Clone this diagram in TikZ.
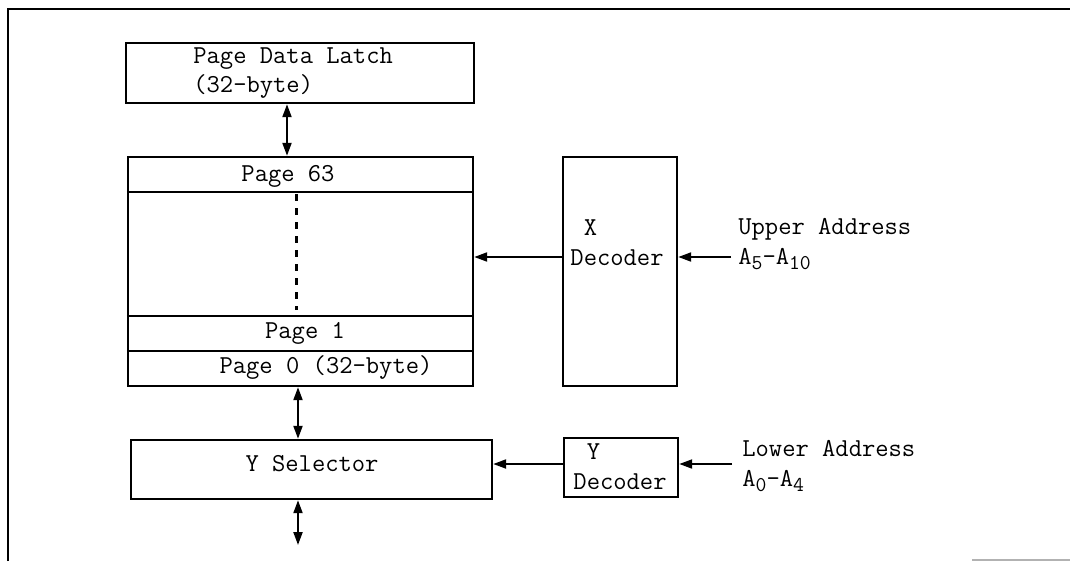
\documentclass[tikz,border=0pt]{standalone}
\usepackage{fontspec}
\usetikzlibrary{arrows.meta}
\newcommand{\addrsub}[1]{\raisebox{-0.45ex}{\fontsize{12}{12}\selectfont #1}}
\tikzset{
  blk/.style={rectangle, draw, line width=1.4pt, inner sep=0pt},
  lbl/.style={font=\ttfamily\fontsize{14.7}{17}\selectfont, inner sep=0pt,
              align=left},
  bus/.style={line width=1.2pt,
              {Triangle[length=2.6mm,width=1.8mm]}-{Triangle[length=2.6mm,width=1.8mm]}},
  sig/.style={line width=1.2pt, -{Triangle[length=2.6mm,width=1.8mm]}},
  rowline/.style={line width=1pt}
}
\begin{document}
\begin{tikzpicture}[x=0.02cm, y=-0.02cm]
  \useasboundingbox (0,0) rectangle (1070,561);
  \draw[line width=1.4pt] (8,561) -- (8,9) -- (1070,9);
  \draw[gray!60, line width=0.8pt] (972,560) -- (1070,560);
  % latch and memory array
  \node[blk, minimum width=6.96cm, minimum height=1.2cm] (latch) at (300,73) {};
  \node[lbl, anchor=west] (latchtxt) at (193,73) {Page Data Latch\\(32-byte)};
  \node[blk, minimum width=6.9cm, minimum height=4.58cm] (mem) at (300.5,271.5) {};
  \foreach \y in {192,316,351}
    \draw[rowline] (mem.west |- 0,\y) -- (mem.east |- 0,\y);
  \node[lbl] (p63) at (288,176) {Page 63};
  \node[lbl] (p1)  at (305,333) {Page 1};
  \node[lbl] (p0)  at (326,367) {Page 0 (32-byte)};
  \draw[line width=1.2pt, dash pattern=on 4pt off 4pt] (296.5,194) -- (296.5,310);
  % decoders and selector
  \node[blk, minimum width=2.28cm, minimum height=4.58cm] (xdec) at (620,271.5) {};
  \node[lbl] (xdectxt) at (617,243) {\ X\\Decoder};
  \node[blk, minimum width=7.22cm, minimum height=1.18cm] (ysel) at (311.5,469.5) {};
  \node[lbl] (yseltxt) at (312,464) {Y Selector};
  \node[blk, minimum width=2.28cm, minimum height=1.18cm] (ydec) at (621,467.5) {};
  \node[lbl] (ydectxt) at (620,467) {\ Y\\Decoder};
  % address inputs
  \node[lbl, anchor=west] (upper) at (738,244)
    {Upper Address\\A\addrsub{5}-A\addrsub{10}};
  \node[lbl, anchor=west] (lower) at (742,466)
    {Lower Address\\A\addrsub{0}-A\addrsub{4}};
  \coordinate (uin) at (731,257);
  \coordinate (lin) at (732,464);
  \coordinate (dout) at (298,545);
  \draw[bus] (latch.south -| 287,0) -- (mem.north -| 287,0);
  \draw[bus] (mem.south -| 298,0) -- (ysel.north -| 298,0);
  \draw[bus] (ysel.south -| 298,0) -- (dout);
  \draw[sig] (xdec.west |- 0,257) -- (mem.east |- 0,257);
  \draw[sig] (uin) -- (xdec.east |- uin);
  \draw[sig] (ydec.west |- 0,464) -- (ysel.east |- 0,464);
  \draw[sig] (lin) -- (ydec.east |- lin);
\end{tikzpicture}
\end{document}
